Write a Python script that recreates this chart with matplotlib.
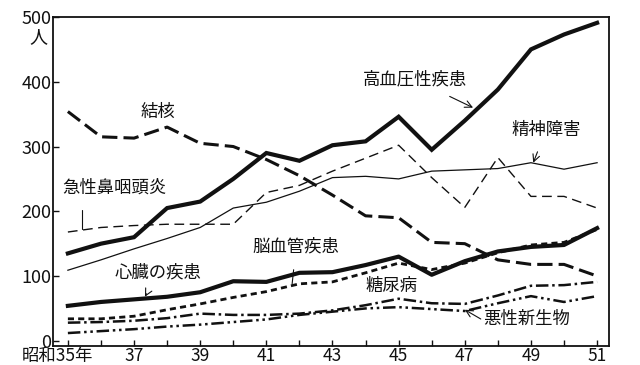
import matplotlib
matplotlib.use("Agg")
import matplotlib.pyplot as plt
import matplotlib.transforms as mtransforms

plt.rcParams['font.family'] = ['Noto Sans CJK JP', 'DejaVu Sans']

# 年次(昭和)
years = list(range(35, 52))

# 患者数(人) - 図から読み取った値
koketsuatsu = [135, 150, 160, 205, 215, 250, 290, 278, 302, 308, 346, 295, 340, 388, 450, 473, 491]
kekkaku = [354, 315, 313, 330, 305, 300, 280, 255, 225, 193, 190, 152, 150, 125, 118, 118, 100]
seishin = [109, 125, 142, 158, 175, 205, 214, 231, 252, 254, 250, 262, 264, 266, 275, 265, 275]
bien = [168, 175, 178, 180, 180, 180, 229, 240, 262, 282, 302, 252, 206, 283, 223, 223, 205]
shinzo = [54, 60, 64, 68, 75, 92, 91, 105, 106, 117, 130, 102, 123, 138, 145, 148, 174]
nokekkan = [34, 34, 38, 48, 57, 67, 76, 88, 91, 105, 120, 110, 120, 136, 148, 152, 172]
tonyo = [28, 29, 31, 35, 42, 40, 40, 42, 47, 55, 65, 58, 57, 70, 85, 86, 91]
akusei = [12, 15, 18, 22, 25, 29, 33, 40, 45, 50, 52, 49, 46, 58, 69, 60, 69]

x_labels = ['昭和35年', '', '37', '', '39', '', '41', '', '43', '', '45', '', '47', '', '49', '', '51']

ink = '#111111'

fig = plt.figure(figsize=(6.4, 3.65), dpi=100)
ax = fig.add_axes([53 / 640, 1 - 346 / 365, 556 / 640, 329 / 365])

ax.plot(years, koketsuatsu, color=ink, lw=3.0, solid_joinstyle='miter')
ax.plot(years, kekkaku, color=ink, lw=2.2, dashes=(5, 2))
ax.plot(years, seishin, color=ink, lw=0.9)
ax.plot(years, bien, color=ink, lw=1.0, dashes=(7, 4))
ax.plot(years, shinzo, color=ink, lw=3.0)
ax.plot(years, nokekkan, color=ink, lw=2.0, dashes=(2.2, 1.5))
ax.plot(years, tonyo, color=ink, lw=1.8, dashes=(5, 1.5, 1, 1.5))
ax.plot(years, akusei, color=ink, lw=1.8, dashes=(5, 1.5, 1, 1.5, 1, 1.5))

ax.set_xlim(34.55, 51.36)
ax.set_ylim(-8, 500)

ax.set_xticks(years)
ax.set_xticklabels(x_labels)
ax.set_yticks([0, 100, 200, 300, 400, 500])
ax.tick_params(direction='in', length=4.5, width=1.0, labelsize=13, colors=ink)
ax.tick_params(axis='y', pad=1)
ax.tick_params(axis='x', pad=0.5, labelsize=12.5)
for s in ax.spines.values():
    s.set_linewidth(1.3)
    s.set_color(ink)

# 「昭和35年」を左に寄せる
lab = ax.get_xticklabels()[0]
lab.set_transform(lab.get_transform() + mtransforms.ScaledTranslation(-10 / 100, 0, fig.dpi_scale_trans))

ax.text(-0.027, 0.94, '人', transform=ax.transAxes, fontsize=13, ha='center', va='center', color=ink)

fs = 12.5
ax.annotate('高血圧性疾患', xy=(47.25, 360), xytext=(45.5, 403), fontsize=fs, ha='center', va='center',
            color=ink, arrowprops=dict(arrowstyle='->', color=ink, lw=0.8, shrinkA=8, shrinkB=0))
ax.text(37.72, 354, '結核', fontsize=fs, ha='center', va='center', color=ink)
ax.annotate('精神障害', xy=(49.07, 275), xytext=(49.46, 326), fontsize=fs, ha='center', va='center',
            color=ink, arrowprops=dict(arrowstyle='->', color=ink, lw=0.8, shrinkA=8, shrinkB=0))
ax.annotate('急性鼻咽頭炎', xy=(35.42, 172), xytext=(36.42, 237), fontsize=fs, ha='center', va='center',
            color=ink, arrowprops=dict(arrowstyle='-', color=ink, lw=0.8, shrinkA=8, shrinkB=0,
                                       connectionstyle='angle,angleA=0,angleB=90,rad=0'))
ax.annotate('心臓の疾患', xy=(37.33, 68), xytext=(37.72, 106), fontsize=fs, ha='center', va='center',
            color=ink, arrowprops=dict(arrowstyle='->', color=ink, lw=0.8, shrinkA=8, shrinkB=0))
ax.annotate('脳血管疾患', xy=(41.78, 88), xytext=(41.9, 145), fontsize=fs, ha='center', va='center',
            color=ink, arrowprops=dict(arrowstyle='-', color=ink, lw=0.8, shrinkA=8, shrinkB=0))
ax.text(44.77, 85, '糖尿病', fontsize=fs, ha='center', va='center', color=ink)
ax.annotate('悪性新生物', xy=(47.0, 48), xytext=(48.88, 34), fontsize=fs, ha='center', va='center',
            color=ink, arrowprops=dict(arrowstyle='->', color=ink, lw=0.8, shrinkA=0, shrinkB=0,
                                       relpos=(0, 0.4)))

fig.savefig('out.png', dpi=100)
